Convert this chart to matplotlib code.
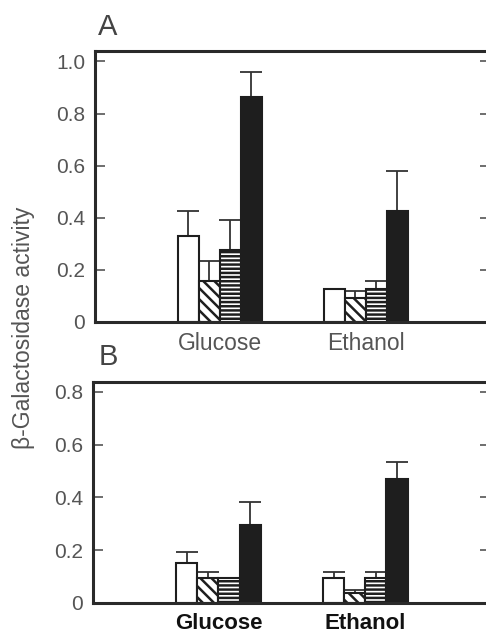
import numpy as np
import matplotlib
matplotlib.use("Agg")
from matplotlib import pyplot as plt

plt.rcParams['font.family'] = ['Liberation Sans', 'DejaVu Sans']
plt.rcParams['hatch.linewidth'] = 1.8

# datos
grupos = ["Glucose", "Ethanol"]
A_valores = [[0.33, 0.126], [0.157, 0.092], [0.276, 0.126], [0.862, 0.425]]
A_errores = [[0.095, 0.0], [0.077, 0.027], [0.114, 0.031], [0.098, 0.155]]
B_valores = [[0.152, 0.095], [0.095, 0.038], [0.095, 0.095], [0.295, 0.47]]
B_errores = [[0.041, 0.022], [0.022, 0.012], [0.0, 0.022], [0.088, 0.064]]
A_ticks = [0, 0.2, 0.4, 0.6, 0.8, 1.0]
B_ticks = [0, 0.2, 0.4, 0.6, 0.8]

# estilos de las barras: blanco, diagonal, rayas, negro
colores = ["white", "white", "white", "#1e1e1e"]
tramas = [None, "\\\\\\", "----", None]

fig = plt.figure(figsize=(4.86, 6.41), dpi=100)
fig.patch.set_facecolor("white")

ancho = 0.144
x = np.arange(len(grupos))


def panel(ax, valores, errores, ticks, ytop, etiquetas_color, etiquetas_size, etiquetas_peso, pad):
    for i in range(4):
        pos = x + (i - 1.5) * ancho
        ax.bar(pos, valores[i], width=ancho, color=colores[i], hatch=tramas[i],
               edgecolor="#1e1e1e", linewidth=1.5, zorder=2)
        err = np.array(errores[i])
        ax.errorbar(pos, valores[i], yerr=[np.zeros_like(err), err], fmt="none",
                    ecolor="#333333", elinewidth=1.3, capsize=8, capthick=1.3, zorder=1)
    ax.set_xlim(-0.856, 1.849)
    ax.set_ylim(0, ytop)
    ax.set_yticks(ticks)
    ax.set_yticklabels(["0" if t == 0 else "%.1f" % t for t in ticks])
    ax.set_xticks(x)
    ax.set_xticklabels(grupos)
    ax.tick_params(axis="y", direction="in", length=7, width=1.2, colors="#555555",
                   labelsize=15, right=True, pad=7)
    ax.tick_params(axis="x", length=0, pad=pad, labelsize=etiquetas_size,
                   labelcolor=etiquetas_color)
    for t in ax.get_xticklabels():
        t.set_fontweight(etiquetas_peso)
    for s in ax.spines.values():
        s.set_linewidth(2.2)
        s.set_color("#2a2a2a")


axA = fig.add_axes([0.195, 0.4977, 0.813, 0.4227])
panel(axA, A_valores, A_errores, A_ticks, 1.04, "#555555", 16.5, "normal", 7)
axB = fig.add_axes([0.191, 0.0593, 0.817, 0.3448])
panel(axB, B_valores, B_errores, B_ticks, 0.837, "#111111", 16, "bold", 7)

fig.text(0.222, 0.958, "A", fontsize=21, color="#444444", ha="center", va="center")
fig.text(0.222, 0.443, "B", fontsize=21, color="#444444", ha="center", va="center")
fig.text(0.048, 0.488, "\u03b2-Galactosidase activity", rotation=90, fontsize=16.5,
         color="#555555", ha="center", va="center")

fig.savefig("out.png", dpi=100, facecolor="white")
